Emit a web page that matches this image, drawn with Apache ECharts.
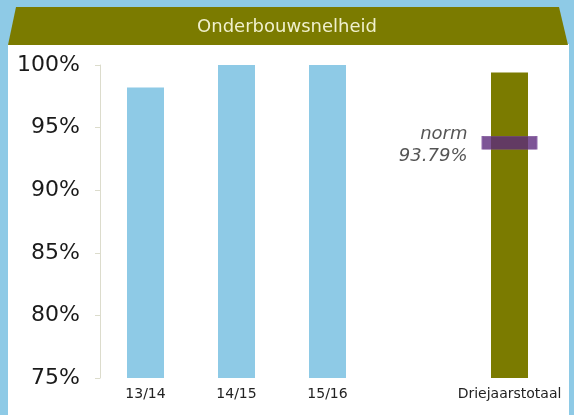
<!DOCTYPE html>
<html>
<head>
<meta charset="utf-8">
<script src="https://cdn.jsdelivr.net/npm/echarts@6/dist/echarts.min.js"></script>
<style>
  html, body { margin: 0; padding: 0; background: #8ecae6; }
  #chart { width: 574px; height: 415px; }
</style>
</head>
<body>
<div id="chart"></div>
<script>
const categories = ['13/14', '14/15', '15/16', '', 'Driejaarstotaal']
const yearValues = [98.2, 100, 100, null, null]
const totalValues = [null, null, null, null, 99.4]
const normValue = 93.79
const yTicks = [75, 80, 85, 90, 95, 100]

const chart = echarts.init(document.getElementById('chart'))

chart.setOption({
  backgroundColor: '#8ecae6',
  animation: false,
  graphic: [
    {
      type: 'rect',
      z: -10,
      shape: { x: 8, y: 44, width: 561, height: 380 },
      style: { fill: '#ffffff' }
    },
    {
      type: 'polygon',
      z: -10,
      shape: { points: [[16, 7], [559, 7], [568, 45], [8, 45]] },
      style: { fill: '#7b7b00' }
    },
    {
      type: 'text',
      left: 'center',
      top: 18,
      style: {
        text: 'Onderbouwsnelheid',
        fill: '#f0f0cc',
        font: '18px "DejaVu Sans"'
      }
    }
  ],
  grid: { left: 100, right: 19, top: 65, bottom: 37 },
  xAxis: {
    type: 'category',
    data: categories,
    axisLine: { show: false },
    axisTick: { show: false },
    axisLabel: {
      color: '#222',
      fontSize: 14,
      fontFamily: 'DejaVu Sans',
      margin: 9,
      interval: 0
    }
  },
  yAxis: {
    type: 'value',
    min: yTicks[0],
    max: yTicks[yTicks.length - 1],
    interval: 5,
    splitLine: { show: false },
    axisLine: { show: true, lineStyle: { color: '#dcdccc' } },
    axisTick: { show: true, length: 5, lineStyle: { color: '#dcdccc' } },
    axisLabel: {
      color: '#1a1a1a',
      fontSize: 22,
      fontFamily: 'DejaVu Sans',
      margin: 20,
      formatter: '{value}%'
    }
  },
  series: [
    {
      type: 'bar',
      data: yearValues,
      barWidth: 37,
      stack: 'a',
      itemStyle: { color: '#8ecae6' }
    },
    {
      type: 'bar',
      data: totalValues,
      barWidth: 37,
      stack: 'a',
      itemStyle: { color: '#7b7b00' }
    },
    {
      type: 'scatter',
      data: [[categories[4], normValue]],
      symbol: 'rect',
      symbolSize: [54, 13],
      z: 5,
      itemStyle: { color: '#5c2b7c', borderColor: '#7a4f98', borderWidth: 1 },
      label: {
        show: true,
        position: 'left',
        distance: 14,
        align: 'right',
        offset: [0, 3],
        formatter: 'norm\n' + normValue + '%',
        fontStyle: 'italic',
        fontSize: 18,
        lineHeight: 22,
        color: '#2a2a2a',
        fontFamily: 'DejaVu Sans'
      }
    }
  ]
})
</script>
</body>
</html>
